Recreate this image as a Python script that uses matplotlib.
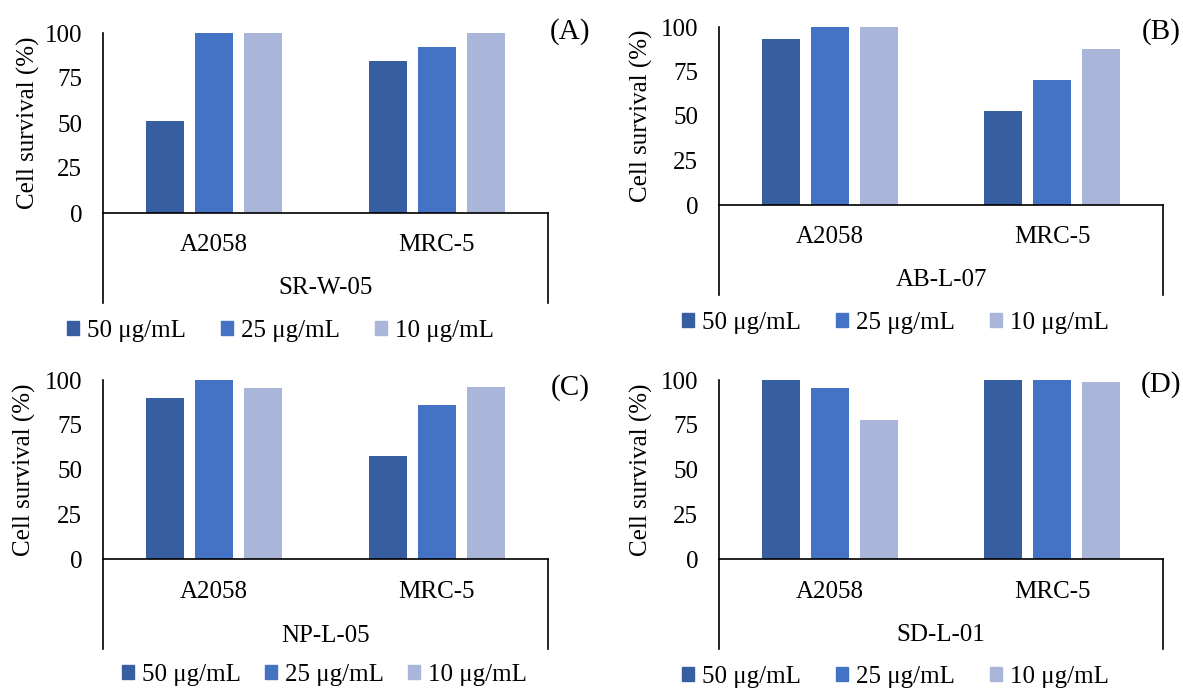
import matplotlib.pyplot as plt
import numpy as np
from matplotlib.patches import Patch

plt.rcParams['font.family'] = ['Liberation Serif', 'DejaVu Serif']
plt.rcParams['font.size'] = 18

# Data (cell survival, %)
cell_lines = ['A2058', 'MRC-5']
conc_labels = ['50 μg/mL', '25 μg/mL', '10 μg/mL']
colors = ['#375EA0', '#4472C4', '#A9B6DA']

srw05_50 = [50.9, 84.5]
srw05_25 = [100, 92.4]
srw05_10 = [100, 100]

abl07_50 = [93.3, 53.0]
abl07_25 = [100, 70.1]
abl07_10 = [100, 87.7]

npl05_50 = [90.1, 57.8]
npl05_25 = [100, 86.1]
npl05_10 = [95.5, 96.1]

sdl01_50 = [100, 100]
sdl01_25 = [95.5, 100]
sdl01_10 = [77.9, 99.1]

W, H = 1183, 689
fig = plt.figure(figsize=(W / 100, H / 100), dpi=100)

# Panel layout in pixels
panels = [
    dict(name='SR-W-05', tag='(A)', series=[srw05_50, srw05_25, srw05_10],
         left=103, right=548, top=33, zero=213, bottom=303,
         cat_y=245, name_y=288, ylab_x=28, tag_x=590, tag_y=32,
         leg_x=67, leg_y=331, colsp=1.4),
    dict(name='AB-L-07', tag='(B)', series=[abl07_50, abl07_25, abl07_10],
         left=719, right=1163, top=27, zero=205, bottom=295,
         cat_y=237, name_y=280, ylab_x=641, tag_x=1181, tag_y=32,
         leg_x=682, leg_y=323, colsp=1.4),
    dict(name='NP-L-05', tag='(C)', series=[npl05_50, npl05_25, npl05_10],
         left=103, right=548, top=380, zero=559, bottom=649,
         cat_y=592, name_y=636, ylab_x=24, tag_x=590, tag_y=388,
         leg_x=122, leg_y=675, colsp=0.96),
    dict(name='SD-L-01', tag='(D)', series=[sdl01_50, sdl01_25, sdl01_10],
         left=719, right=1163, top=380, zero=559, bottom=649,
         cat_y=592, name_y=635, ylab_x=641, tag_x=1181, tag_y=385,
         leg_x=682, leg_y=677, colsp=1.4),
]

x = np.arange(len(cell_lines)) + 0.5
offsets = [-0.22, 0, 0.22]
width = 0.171

for p in panels:
    h = p['zero'] - p['top']
    ax = fig.add_axes([p['left'] / W, 1 - p['zero'] / H,
                       (p['right'] - p['left']) / W, h / H])
    for vals, off, col in zip(p['series'], offsets, colors):
        ax.bar(x + off, vals, width, color=col)
    ax.set_xlim(0, 2)
    ax.set_ylim(0, 100)
    ax.set_yticks([0, 25, 50, 75, 100])
    ax.tick_params(axis='y', length=0, pad=15)
    ax.set_xticks([])
    for s in ax.spines.values():
        s.set_visible(False)

    # Excel-like frame lines
    ext = (p['bottom'] - p['zero']) / h
    kw = dict(transform=ax.transAxes, color='black', lw=1.2, clip_on=False)
    ax.plot([0, 0], [1, -ext], **kw)
    ax.plot([0, 1], [0, 0], **kw)
    ax.plot([1, 1], [0, -ext], **kw)

    # Category and group labels
    for xi, lab in zip(x, cell_lines):
        ax.text(xi / 2, -(p['cat_y'] - p['zero']) / h, lab,
                transform=ax.transAxes, ha='center', va='center')
    ax.text(0.5, -(p['name_y'] - p['zero']) / h, p['name'],
            transform=ax.transAxes, ha='center', va='center')

    fig.text(p['ylab_x'] / W, 1 - (p['top'] + h / 2) / H, 'Cell survival (%)',
             rotation=90, ha='center', va='center')
    fig.text(p['tag_x'] / W, 1 - p['tag_y'] / H, p['tag'],
             ha='right', va='center', fontsize=21)

    handles = [Patch(color=c) for c in colors]
    fig.legend(handles, conc_labels, loc='center left',
               bbox_to_anchor=(p['leg_x'] / W, 1 - p['leg_y'] / H),
               ncol=3, frameon=False, borderpad=0, borderaxespad=0,
               handlelength=0.48, handleheight=0.48, handletextpad=0.32,
               columnspacing=p['colsp'])

fig.savefig('out.png', dpi=100)
